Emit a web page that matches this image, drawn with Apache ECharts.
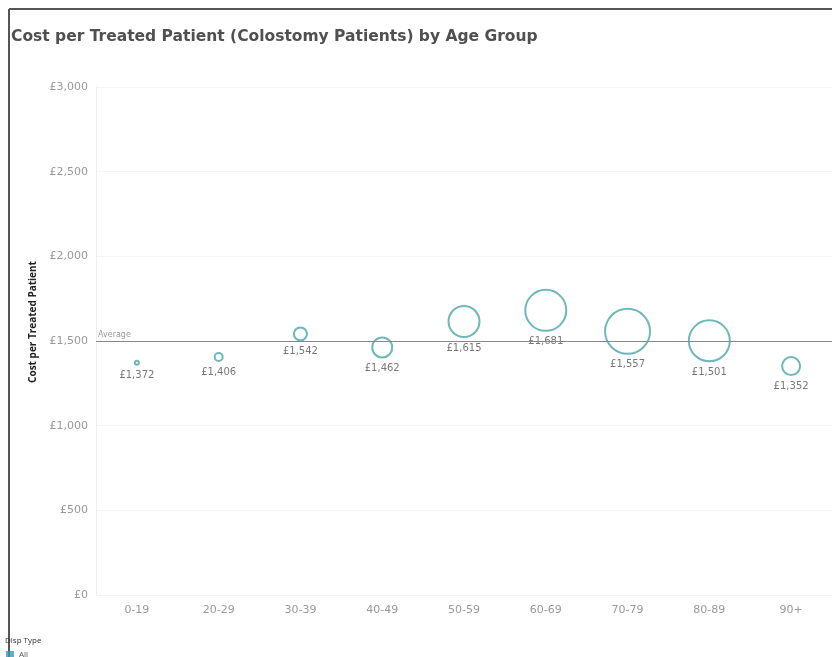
<!DOCTYPE html>
<html>
<head>
<meta charset="utf-8">
<script src="https://cdn.jsdelivr.net/npm/echarts@6/dist/echarts.min.js"></script>
<style>
  html, body { margin: 0; padding: 0; background: #fff; }
  #main { width: 832px; height: 657px; }
</style>
</head>
<body>
<div id="main"></div>
<script>
// 年龄组
var ageGroups = ['0-19', '20-29', '30-39', '40-49', '50-59', '60-69', '70-79', '80-89', '90+'];
// 每位患者费用 (£)
var costPerPatient = [1372, 1406, 1542, 1462, 1615, 1681, 1557, 1501, 1352];
// 患者人数 (圆圈大小, 估计值)
var patientCounts = [4, 16, 42, 100, 240, 420, 506, 420, 81];
var averageCost = 1500;
var yTicks = [0, 500, 1000, 1500, 2000, 2500, 3000];

var maxCount = Math.max.apply(null, patientCounts);

function pounds(v) {
  return '£' + String(v).replace(/\B(?=(\d{3})+(?!\d))/g, ',');
}

var myChart = echarts.init(document.getElementById('main'));

var option = {
  animation: false,
  textStyle: { fontFamily: 'DejaVu Sans' },
  title: [
    {
      text: 'Cost per Treated Patient (Colostomy Patients) by Age Group',
      left: 6,
      top: 24,
      textStyle: { fontSize: 15.5, fontWeight: 'bold', color: '#505050', fontFamily: 'DejaVu Sans' }
    },
    {
      text: 'Disp Type',
      left: 0,
      top: 632,
      textStyle: { fontSize: 8, fontWeight: 'normal', color: '#333', fontFamily: 'Open Sans' }
    }
  ],
  legend: {
    data: ['All'],
    left: 1,
    top: 646,
    icon: 'rect',
    itemWidth: 8,
    itemHeight: 8,
    itemGap: 4,
    itemStyle: { color: '#3a9bb8', borderWidth: 0 },
    textStyle: { fontSize: 8, color: '#555', fontFamily: 'Open Sans' }
  },
  graphic: [
    { type: 'line', shape: { x1: 9, y1: 9, x2: 832, y2: 9 }, style: { stroke: '#555', lineWidth: 2 } },
    { type: 'line', shape: { x1: 9, y1: 9, x2: 9, y2: 657 }, style: { stroke: '#555', lineWidth: 2 } },
    {
      type: 'text',
      x: 33,
      y: 322,
      rotation: Math.PI / 2,
      style: {
        text: 'Cost per Treated Patient',
        font: 'bold 10px "Open Sans"',
        fill: '#222',
        textAlign: 'center',
        textVerticalAlign: 'middle'
      }
    }
  ],
  grid: {
    left: 96,
    top: 87,
    width: 743,
    bottom: 62
  },
  xAxis: {
    type: 'category',
    data: ageGroups,
    boundaryGap: true,
    axisLine: { show: false },
    axisTick: { show: false },
    axisLabel: { color: '#999', fontSize: 11, margin: 10 },
    splitLine: { show: false }
  },
  yAxis: {
    type: 'value',
    min: yTicks[0],
    max: yTicks[yTicks.length - 1],
    interval: 500,
    axisLine: { show: true, lineStyle: { color: '#eee' } },
    axisTick: { show: false },
    axisLabel: { color: '#999', fontSize: 11, margin: 8, formatter: pounds },
    splitLine: { show: true, lineStyle: { color: '#f5f5f5' } }
  },
  series: [
    {
      name: 'All',
      type: 'scatter',
      data: costPerPatient.map(function (v, i) {
        return [ageGroups[i], v, patientCounts[i]];
      }),
      symbolSize: function (val) {
        return Math.sqrt(val[2] / maxCount) * 45;
      },
      itemStyle: {
        color: 'rgba(255,255,255,0)',
        borderColor: '#4aa6a8',
        borderWidth: 2
      },
      label: {
        show: true,
        position: 'bottom',
        distance: 5,
        fontSize: 10,
        color: '#555',
        formatter: function (p) { return pounds(p.value[1]); }
      },
      markLine: {
        silent: true,
        symbol: 'none',
        data: [{ yAxis: averageCost }],
        lineStyle: { color: '#888', type: 'solid', width: 1 },
        label: {
          position: 'insideStartTop',
          formatter: 'Average',
          fontSize: 8,
          color: '#999',
          distance: [2, 2]
        }
      }
    }
  ]
};

myChart.setOption(option);
</script>
</body>
</html>
